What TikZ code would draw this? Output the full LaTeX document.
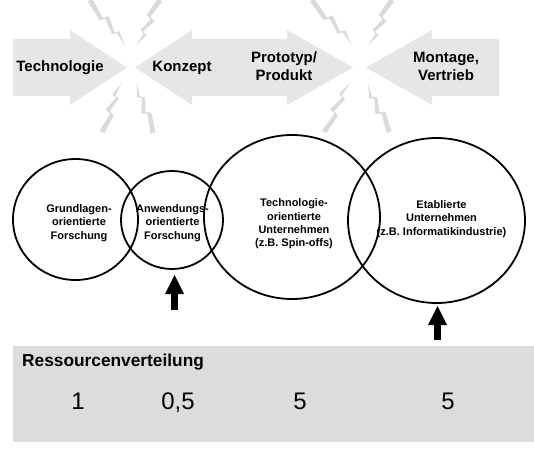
\documentclass[tikz,border=0pt]{standalone}
\usepackage{fontspec}
\setmainfont{Liberation Sans}
\usetikzlibrary{arrows.meta,calc,shapes.geometric}

\definecolor{arrowgray}{HTML}{E6E6E6}
\definecolor{boltgray}{HTML}{DADADA}
\definecolor{boxgray}{HTML}{DCDCDC}

% zigzag lightning from #1 (wide end) to #2 (tip)
\newcommand{\zigbolt}[2]{%
  \fill[boltgray] ($(#1)!0!(#2)!2.6pt!90:(#2)$)
    -- ($(#1)!0.38!(#2)!-0.6pt!90:(#2)$)
    -- ($(#1)!0.42!(#2)!5.2pt!90:(#2)$)
    -- ($(#1)!0.70!(#2)!0pt!90:(#2)$)
    -- ($(#1)!0.74!(#2)!4.6pt!90:(#2)$)
    -- (#2)
    -- ($(#1)!0.74!(#2)!1.4pt!90:(#2)$)
    -- ($(#1)!0.70!(#2)!-3.2pt!90:(#2)$)
    -- ($(#1)!0.42!(#2)!0.8pt!90:(#2)$)
    -- ($(#1)!0.38!(#2)!-4.6pt!90:(#2)$)
    -- ($(#1)!0!(#2)!-2.6pt!90:(#2)$) -- cycle;}

\begin{document}
\begin{tikzpicture}[x=1pt, y=-1pt,
    phase/.style={align=center, font=\bfseries\fontsize{15}{18}\selectfont,
        inner sep=0pt},
    ring/.style={draw, ellipse, line width=1.8pt, inner sep=0pt},
    ringtext/.style={align=center, font=\bfseries\fontsize{11}{13.4}\selectfont,
        inner sep=0pt},
    share/.style={anchor=base, font=\fontsize{24}{28}\selectfont, inner sep=0pt},
    uparrow/.style={-{Triangle[width=19pt, length=19pt, line width=0pt]},
        line width=6.5pt}
]
    \useasboundingbox (0,0) rectangle (534,449);

    % lightning between the phases
    \coordinate (b1s) at (90,0);    \coordinate (b1e) at (125,46);
    \coordinate (b2s) at (160,0);   \coordinate (b2e) at (136,45);
    \coordinate (b3s) at (102,132); \coordinate (b3e) at (122,83);
    \coordinate (b4s) at (153,133); \coordinate (b4e) at (137,83);
    \coordinate (b5s) at (312,0);   \coordinate (b5e) at (352,45);
    \coordinate (b6s) at (392,0);   \coordinate (b6e) at (368,45);
    \coordinate (b7s) at (324,132); \coordinate (b7e) at (350,83);
    \coordinate (b8s) at (389,132); \coordinate (b8e) at (368,84);
    \zigbolt{b1s}{b1e} \zigbolt{b2s}{b2e} \zigbolt{b3s}{b3e} \zigbolt{b4s}{b4e}
    \zigbolt{b5s}{b5e} \zigbolt{b6s}{b6e} \zigbolt{b7s}{b7e} \zigbolt{b8s}{b8e}

    % phase arrows
    \fill[arrowgray] (13,39) -- (70,39) -- (70,30) -- (127,67.5) -- (70,105)
        -- (70,96) -- (13,96) -- cycle;
    \fill[arrowgray] (135,67.5) -- (192,30) -- (192,39) -- (218,39) -- (218,96)
        -- (192,96) -- (192,105) -- cycle;
    \fill[arrowgray] (218,39) -- (287,39) -- (287,30) -- (353,67.5) -- (287,105)
        -- (287,96) -- (218,96) -- cycle;
    \fill[arrowgray] (366,67.5) -- (432,30) -- (432,39) -- (499,39) -- (499,96)
        -- (432,96) -- (432,105) -- cycle;

    \node[phase] (technologie) at (60,68) {Technologie};
    \node[phase] (konzept) at (182,68) {Konzept};
    \node[phase] (prototyp) at (284,66) {Prototyp/\\Produkt};
    \node[phase] (montage) at (446,66) {Montage,\\Vertrieb};

    % actors
    \node[ring, minimum width=125pt, minimum height=121pt] (grund) at (75.5,219.5) {};
    \node[ring, minimum width=102pt, minimum height=98pt] (anwend) at (172,220) {};
    \node[ring, minimum width=176pt, minimum height=164pt] (tou) at (292,217) {};
    \node[ring, minimum width=177pt, minimum height=165pt] (etabl) at (436.5,220.5) {};

    \node[ringtext] (grundtext) at (79,223) {Grundlagen-\\orientierte\\Forschung};
    \node[ringtext] (anwendtext) at (172.5,223) {Anwendungs-\\orientierte\\Forschung};
    \node[ringtext] (toutext) at (294,224)
        {Technologie-\\orientierte\\Unternehmen\\(z.B. Spin-offs)};
    \node[ringtext] (etabltext) at (441.5,219)
        {Etablierte\\Unternehmen\\(z.B. Informatikindustrie)};

    % focus arrows
    \coordinate (focus1) at (174.5,275);
    \coordinate (focus1 tail) at (174.5,310);
    \coordinate (focus2) at (437.5,306);
    \coordinate (focus2 tail) at (437.5,340);
    \draw[uparrow] (focus1 tail) -- (focus1);
    \draw[uparrow] (focus2 tail) -- (focus2);

    % resources
    \fill[boxgray] (13,346) rectangle (534,442);
    \node[anchor=west, font=\bfseries\fontsize{17.3}{20}\selectfont, inner sep=0pt]
        (ressourcen) at (22,362) {Ressourcenverteilung};
    \node[share] (share1) at (78,409.5) {1};
    \node[share] (share2) at (178,409.5) {0,5};
    \node[share] (share3) at (300,409.5) {5};
    \node[share] (share4) at (448,409.5) {5};
\end{tikzpicture}
\end{document}
